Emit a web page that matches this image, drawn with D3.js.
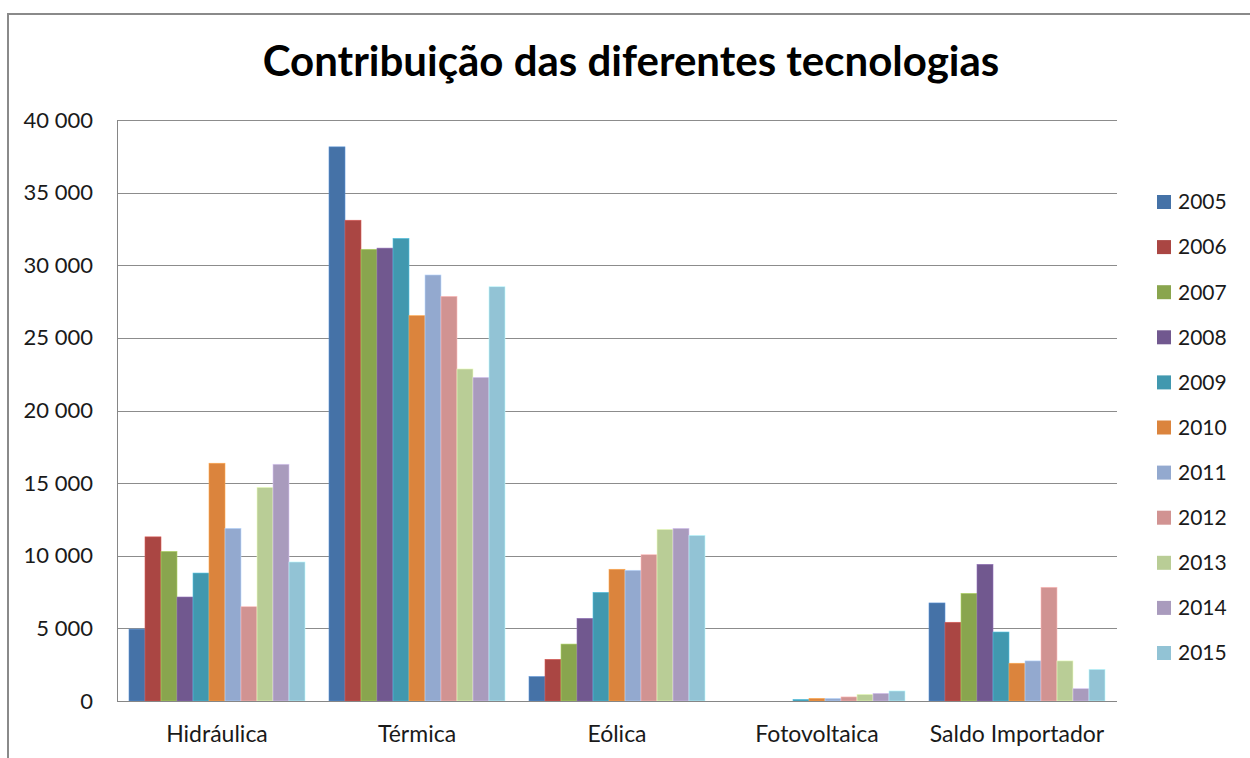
<!DOCTYPE html>
<html>
<head>
<meta charset="utf-8">
<script src="https://cdn.jsdelivr.net/npm/d3@7"></script>
<style>
    body { margin: 0; background: #fff; }
    text { font-family: Lato, "Open Sans", sans-serif; fill: #1a1a1a; }
</style>
</head>
<body>
<svg id="chart"></svg>
<script>
// categories and years
const categories = ['Hidráulica', 'Térmica', 'Eólica', 'Fotovoltaica', 'Saldo Importador'];
const years = ['2005', '2006', '2007', '2008', '2009', '2010', '2011', '2012', '2013', '2014', '2015'];

// values per year, in category order
const v2005 = [4950, 38150, 1680, 0, 6750];
const v2006 = [11300, 33100, 2870, 0, 5420];
const v2007 = [10300, 31100, 3920, 0, 7410];
const v2008 = [7160, 31180, 5690, 0, 9410];
const v2009 = [8810, 31850, 7480, 110, 4750];
const v2010 = [16370, 26530, 9070, 180, 2600];
const v2011 = [11890, 29330, 9000, 180, 2760];
const v2012 = [6490, 27860, 10070, 280, 7830];
const v2013 = [14710, 22860, 11820, 460, 2760];
const v2014 = [16300, 22280, 11890, 530, 850];
const v2015 = [9570, 28520, 11400, 690, 2180];

const yTicks = [0, 5000, 10000, 15000, 20000, 25000, 30000, 35000, 40000];
const colors = ['#4572A7', '#AA4643', '#89A54E', '#71588F', '#4198AF', '#DB843D',
                '#93A9CF', '#D19392', '#B9CD96', '#A99BBD', '#92C3D5'];

const series = [v2005, v2006, v2007, v2008, v2009, v2010, v2011, v2012, v2013, v2014, v2015];

const width = 1250, height = 758;
const plot = {left: 117, right: 1117, top: 120, bottom: 701};

const svg = d3.select('#chart')
    .attr('width', width)
    .attr('height', height);

// outer frame (only top and left edges are visible)
svg.append('path')
    .attr('d', 'M8,' + height + 'V14H' + width)
    .attr('fill', 'none')
    .attr('stroke', '#8a8a8a')
    .attr('stroke-width', 2);

// title
svg.append('text')
    .attr('x', 631)
    .attr('y', 76)
    .attr('text-anchor', 'middle')
    .style('font-size', '42px')
    .style('font-weight', 'bold')
    .style('fill', '#000')
    .text('Contribuição das diferentes tecnologias');

let y = d3.scaleLinear()
    .domain([0, 40000])
    .range([plot.bottom, plot.top]);

let x0 = d3.scaleBand()
    .domain(categories)
    .range([plot.left, plot.right])
    .padding(0);

let x1 = d3.scaleBand()
    .domain(years)
    .range([0, x0.bandwidth()])
    .paddingInner(0)
    .paddingOuter(0.75);

let color = d3.scaleOrdinal()
    .domain(years)
    .range(colors);

// gridlines
svg.append('g')
    .selectAll('line')
    .data(yTicks.filter(d => d > 0))
    .enter().append('line')
        .attr('x1', plot.left)
        .attr('x2', plot.right)
        .attr('y1', d => Math.round(y(d)) + 0.5)
        .attr('y2', d => Math.round(y(d)) + 0.5)
        .attr('stroke', '#8c8c8c')
        .attr('stroke-width', 1);

// y axis labels
let fmt = d => d3.format(',')(d).replace(/,/g, ' ');
let axisY = svg.append('g')
    .attr('transform', 'translate(' + (plot.left - 24) + ',0)')
    .call(d3.axisLeft(y).tickValues(yTicks).tickFormat(fmt).tickSize(0).tickPadding(0));
axisY.select('.domain').remove();
axisY.selectAll('text')
    .style('font-family', 'Lato, sans-serif')
    .style('font-size', '22px')
    .attr('fill', '#1a1a1a');

// bars
let groups = svg.append('g')
    .selectAll('g')
    .data(categories)
    .enter().append('g')
        .attr('transform', d => 'translate(' + x0(d) + ',0)');

groups.selectAll('rect')
    .data((c, ci) => years.map((yr, i) => ({year: yr, value: series[i][ci]})))
    .enter().append('rect')
        .filter(d => d.value > 0)
        .attr('x', d => x1(d.year))
        .attr('y', d => y(d.value))
        .attr('width', x1.bandwidth())
        .attr('height', d => plot.bottom - y(d.value))
        .attr('fill', d => color(d.year))
        .attr('stroke', d => d3.color(color(d.year)).brighter(0.7))
        .attr('stroke-width', 0.6);

// axis lines
svg.append('line')
    .attr('x1', plot.left + 0.5).attr('x2', plot.left + 0.5)
    .attr('y1', plot.top).attr('y2', plot.bottom)
    .attr('stroke', '#868686');
svg.append('line')
    .attr('x1', plot.left).attr('x2', plot.right)
    .attr('y1', plot.bottom + 0.5).attr('y2', plot.bottom + 0.5)
    .attr('stroke', '#868686');

// category labels
svg.append('g')
    .selectAll('text')
    .data(categories)
    .enter().append('text')
        .attr('x', d => x0(d) + x0.bandwidth() / 2)
        .attr('y', 742)
        .attr('text-anchor', 'middle')
        .style('font-size', '23px')
        .text(d => d);

// legend
let legend = svg.append('g')
    .attr('transform', 'translate(1157,202)');

let rows = legend.selectAll('g')
    .data(years)
    .enter().append('g')
        .attr('transform', (d, i) => 'translate(0,' + (i * 45.1) + ')');

rows.append('rect')
    .attr('x', 0)
    .attr('y', -7)
    .attr('width', 14)
    .attr('height', 14)
    .attr('fill', d => color(d));

rows.append('text')
    .attr('x', 21)
    .attr('y', 0)
    .attr('dy', '0.35em')
    .style('font-size', '21px')
    .text(d => d);
</script>
</body>
</html>
